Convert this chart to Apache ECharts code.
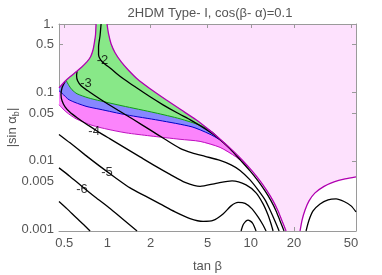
<!DOCTYPE html>
<html><head><meta charset="utf-8">
<script src="https://cdn.jsdelivr.net/npm/echarts@6/dist/echarts.min.js"></script>
<style>html,body{margin:0;padding:0;background:#fff}#c{width:382px;height:275px}</style>
</head><body><div id="c"></div>
<script>
const X_MIN = 0.46, X_MAX = 54.2, Y_MIN = 0.00094, Y_MAX = 1;
const xTickValues = [0.5, 1, 2, 5, 10, 20, 50];
const xTickLabels = ['0.5', '1', '2', '5', '10', '20', '50'];
const yTickValues = [0.001, 0.005, 0.01, 0.05, 0.1, 0.5, 1];
const yTickLabels = ['0.001', '0.005', '0.01', '0.05', '0.1', '0.5', '1.'];

// excluded-region boundary: left side of the throat, from top down to left edge
const leftBoundary = [[0.834,1.0],[0.827,0.697],[0.814,0.551],[0.795,0.420],[0.764,0.332],[0.722,0.281],[0.666,0.237],[0.605,0.200],[0.549,0.169],[0.507,0.1454],[0.475,0.125],[0.46,0.1168]];
// right side of throat, down to the spike bottom
const rightBoundary = [[0.995,1.0],[1.019,0.721],[1.061,0.515],[1.132,0.380],[1.246,0.281],[1.394,0.214],[1.611,0.158],[1.986,0.1129],[2.566,0.0779],[3.266,0.0556],[4.155,0.0397],[5.120,0.0283],[6.208,0.0202],[7.526,0.01396],[8.838,0.00997],[10.21,0.00711],[11.61,0.00508],[12.99,0.00362],[14.31,0.00259],[15.50,0.00185],[16.53,0.00132],[17.63,0.00094]];
// right arc of excluded spike
const rightArc = [[22.07,0.00094],[22.80,0.00136],[23.92,0.00191],[25.50,0.00259],[28.08,0.00339],[32.45,0.00422],[38.10,0.00491],[45.45,0.00543],[54.2,0.00581]];
// band edges
const greenEdge = [[0.515,0.1504],[0.541,0.125],[0.567,0.1092],[0.615,0.0954],[0.734,0.0833],[0.889,0.0753],[1.266,0.0637],[2.151,0.0503],[3.213,0.0411],[4.430,0.0330],[5.373,0.0265],[6.012,0.0214]];
const blueEdge = [[0.46,0.1055],[0.483,0.0970],[0.541,0.0779],[0.710,0.0626],[0.889,0.0566],[1.350,0.0470],[2.294,0.0390],[3.896,0.0313],[5.120,0.0248],[6.012,0.0206],[6.726,0.01733]];
const magentaEdge = [[0.46,0.0658],[0.515,0.0520],[0.605,0.0411],[0.782,0.0330],[1.011,0.0288],[1.350,0.0256],[1.986,0.0231],[3.213,0.0206],[4.430,0.0192],[6.108,0.0157],[7.899,0.0114],[8.981,0.00916],[9.730,0.00801]];
// contour lines
const contourM2 = [[0.904,1.0],[0.889,0.674],[0.868,0.465],[0.868,0.355],[0.897,0.300],[0.964,0.258],[1.061,0.2216],[1.188,0.181],[1.372,0.1454],[1.637,0.1129],[1.986,0.0862],[2.445,0.0658],[3.062,0.0503],[3.896,0.0384],[4.879,0.0288],[5.916,0.0216],[7.171,0.01494],[8.559,0.00997],[9.888,0.00711],[11.24,0.00508],[12.58,0.00362],[13.86,0.00259],[15.02,0.00185],[16.01,0.00132],[17.07,0.00094]];
const contourM3 = [[0.615,0.2036],[0.610,0.175],[0.620,0.1478],[0.656,0.125],[0.722,0.1073],[0.821,0.0892],[0.964,0.0716],[1.188,0.0547],[1.511,0.0404],[1.986,0.0283],[2.526,0.0206],[3.213,0.0152],[3.896,0.01305],[4.800,0.0116],[6.108,0.01014],[7.289,0.00871],[8.423,0.00723],[9.888,0.00525],[11.24,0.00375],[12.58,0.00268],[13.63,0.00191],[14.54,0.00141],[15.26,0.00111],[15.76,0.00094]];
const contourM4 = [[0.507,0.1429],[0.483,0.1168],[0.475,0.0922],[0.483,0.0753],[0.507,0.0615],[0.549,0.0511],[0.615,0.0425],[0.699,0.0353],[0.795,0.0298],[0.889,0.0256],[1.044,0.0209],[1.328,0.01545],[1.690,0.0114],[2.151,0.00842],[2.736,0.00632],[3.482,0.00483],[4.430,0.00422],[5.728,0.00467],[7.406,0.00508],[9.273,0.00444],[10.89,0.00339],[12.19,0.00234],[13.20,0.00161],[13.86,0.00119],[14.31,0.00094]];
const contourM5 = [[0.46,0.0243],[0.549,0.01828],[0.699,0.01220],[0.889,0.00828],[1.132,0.00571],[1.440,0.00401],[1.832,0.00306],[2.331,0.00234],[2.966,0.00179],[3.773,0.00143],[4.650,0.00130],[5.459,0.00134],[6.409,0.00167],[7.289,0.00219],[8.157,0.00246],[9.127,0.00238],[10.21,0.00198],[11.24,0.00151],[12.18,0.00115],[12.79,0.00094]];
const contourM6 = [[0.46,0.00787],[0.549,0.00591],[0.666,0.00422],[0.821,0.00296],[1.044,0.00201],[1.266,0.00143],[1.611,0.00094]];
const contourM6b = [[8.559,0.00094],[8.908,0.00119],[9.576,0.00136],[10.29,0.00123],[10.89,0.00094]];
const contourM7 = [[0.46,0.00254],[0.524,0.00198],[0.605,0.00148],[0.688,0.00115],[0.758,0.00094]];
const contourRight = [[24.30,0.00094],[25.50,0.00136],[27.20,0.00185],[30.43,0.00234],[34.60,0.00268],[39.34,0.00277],[44.74,0.00254],[50.06,0.00219],[54.2,0.00179]];
const contourLabelPos = [[0.926,0.290],[0.710,0.1336],[0.808,0.0269],[0.995,0.00665],[0.666,0.00375]];
const contourLabelText = ['-2','-3','-4','-5','-6'];

const FONT = "'Liberation Sans', Arial, sans-serif";
const TXT = '#555';
const FRAME = '#9a9a9a';

function pickLabel(vals, labels, v) {
  let best = 0, bd = Infinity;
  vals.forEach((t, i) => { const d = Math.abs(Math.log10(t) - Math.log10(v)); if (d < bd) { bd = d; best = i; } });
  return labels[best];
}
function polygonSeries(pts, color, z) {
  return { type: 'custom', z: z, silent: true, animation: false, clip: true,
    data: [pts[0]],
    renderItem: (params, api) => ({ type: 'polygon', shape: { points: pts.map(p => api.coord(p)) }, style: { fill: color } }) };
}
function lineSeries(pts, color, width, z) {
  return { type: 'line', data: pts, symbol: 'none', showSymbol: false, smooth: 0.25, clip: true,
    lineStyle: { color: color, width: width }, z: z, silent: true, animation: false };
}

const allowedLeft = leftBoundary.concat([[X_MIN, Y_MIN]], rightBoundary.slice().reverse());
const allowedRight = rightArc.concat([[X_MAX, Y_MIN]]);
const rbTo = (xlim) => rightBoundary.filter(p => p[0] <= xlim).reverse();
const magentaPoly = leftBoundary.concat(magentaEdge, rbTo(8.9));
const bluePoly = leftBoundary.concat(blueEdge, rbTo(6.3));
const greenPoly = leftBoundary.filter(p => p[1] >= 0.1504).concat(greenEdge, rbTo(5.2));

function axisCommon(extra) {
  return Object.assign({
    type: 'log', logBase: 10, nameMoveOverlap: false,
    axisLine: { show: true, onZero: false, lineStyle: { color: FRAME, width: 1 } },
    splitLine: { show: false }, minorTick: { show: false }, minorSplitLine: { show: false }
  }, extra);
}

const chart = echarts.init(document.getElementById('c'), null, { renderer: 'canvas' });
chart.setOption({
  animation: false,
  backgroundColor: '#fff',
  title: { text: '2HDM Type- I, cos(β- α)=0.1', left: 205, top: 2, textAlign: 'center',
    textStyle: { fontFamily: FONT, fontSize: 13, fontWeight: 'normal', color: TXT } },
  grid: { left: 59, right: 26, top: 24, bottom: 44, show: true, backgroundColor: '#fde1fd', borderWidth: 0,
    containLabel: false, outerBoundsMode: 'none' },
  xAxis: [
    axisCommon({ min: X_MIN, max: X_MAX, position: 'bottom',
      axisTick: { show: true, inside: true, length: 4, customValues: xTickValues, lineStyle: { color: FRAME } },
      axisLabel: { customValues: xTickValues, formatter: v => pickLabel(xTickValues, xTickLabels, v), color: TXT, fontSize: 13, fontFamily: FONT, margin: 6 },
      name: 'tan β', nameLocation: 'middle', nameGap: 29, nameTextStyle: { color: TXT, fontSize: 13, fontFamily: FONT } }),
    axisCommon({ min: X_MIN, max: X_MAX, position: 'top',
      axisTick: { show: true, inside: true, length: 4, customValues: xTickValues, lineStyle: { color: FRAME } },
      axisLabel: { show: false } })
  ],
  yAxis: [
    axisCommon({ min: Y_MIN, max: Y_MAX, position: 'left',
      axisTick: { show: true, inside: true, length: 4, customValues: yTickValues, lineStyle: { color: FRAME } },
      axisLabel: { customValues: yTickValues, formatter: v => pickLabel(yTickValues, yTickLabels, v), color: TXT, fontSize: 13, fontFamily: FONT, margin: 5 },
      name: '|sin α{s|b}|', nameLocation: 'middle', nameGap: 38, nameRotate: 90,
      nameTextStyle: { color: TXT, fontSize: 13, fontFamily: FONT,
        rich: { s: { fontSize: 9, fontFamily: FONT, color: TXT, verticalAlign: 'bottom', lineHeight: 18 } } } }),
    axisCommon({ min: Y_MIN, max: Y_MAX, position: 'right',
      axisTick: { show: true, inside: true, length: 4, customValues: yTickValues, lineStyle: { color: FRAME } },
      axisLabel: { show: false } })
  ],
  series: [
    polygonSeries(allowedLeft, '#ffffff', 1),
    polygonSeries(allowedRight, '#ffffff', 1),
    polygonSeries(magentaPoly, '#fb84fb', 2),
    polygonSeries(bluePoly, '#8787ff', 3),
    polygonSeries(greenPoly, '#88e888', 4),
    lineSeries(greenEdge, '#10a010', 1, 6),
    lineSeries(blueEdge, '#0000c8', 1, 6),
    lineSeries(magentaEdge, '#c010c0', 1, 6),
    lineSeries(contourM2, '#000', 1.3, 7),
    lineSeries(contourM3, '#000', 1.3, 7),
    lineSeries(contourM4, '#000', 1.3, 7),
    lineSeries(contourM5, '#000', 1.3, 7),
    lineSeries(contourM6, '#000', 1.3, 7),
    lineSeries(contourM6b, '#000', 1.3, 7),
    lineSeries(contourM7, '#000', 1.3, 7),
    lineSeries(contourRight, '#000', 1.3, 7),
    lineSeries(leftBoundary, '#b000b0', 1.3, 8),
    lineSeries(rightBoundary, '#b000b0', 1.3, 8),
    lineSeries(rightArc, '#b000b0', 1.3, 8),
    { type: 'scatter', z: 9, silent: true, animation: false, symbolSize: 0.1,
      itemStyle: { color: 'rgba(0,0,0,0)' },
      data: contourLabelPos.map((p, i) => [p[0], p[1], contourLabelText[i]]),
      label: { show: true, position: 'inside', formatter: p => p.data[2], color: '#000', fontSize: 13, fontFamily: FONT } }
  ]
});
</script></body></html>
